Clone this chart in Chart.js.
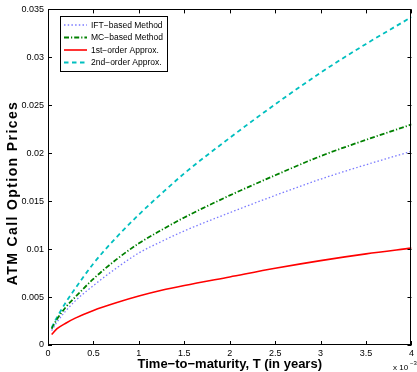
<!DOCTYPE html>
<html>
<head>
<meta charset="utf-8">
<script src="https://cdn.jsdelivr.net/npm/chart.js@4.4.1/dist/chart.umd.min.js"></script>
<style>
  html, body { margin: 0; padding: 0; background: #fff; }
  canvas { display: block; }
</style>
</head>
<body>
<canvas id="chart" width="417" height="372" style="width:417px;height:372px"></canvas>
<script>
// time to maturity, in units of 1e-3 years
const maturities = [0.04, 0.1, 0.2, 0.3, 0.5, 0.75, 1, 1.25, 1.5, 2, 2.5, 3, 3.5, 4];
const iftPrices    = [0.0015, 0.0024, 0.0036, 0.0046, 0.0062, 0.0080, 0.0096, 0.0108, 0.0119, 0.0138, 0.0156, 0.0173, 0.0188, 0.0202];
const mcPrices     = [0.0017, 0.0027, 0.0040, 0.0050, 0.0069, 0.0089, 0.0106, 0.0120, 0.0133, 0.0156, 0.0177, 0.0197, 0.0214, 0.0230];
const firstOrder   = [0.0011, 0.0017, 0.0023, 0.0028, 0.0036, 0.0044, 0.0051, 0.0057, 0.0062, 0.0071, 0.0080, 0.0088, 0.0095, 0.0101];
const secondOrder  = [0.0018, 0.0029, 0.0045, 0.0059, 0.0085, 0.0112, 0.0136, 0.0158, 0.0179, 0.0216, 0.0251, 0.0284, 0.0314, 0.0342];
const xTicks = [0, 0.5, 1, 1.5, 2, 2.5, 3, 3.5, 4];
const yTicks = [0, 0.005, 0.01, 0.015, 0.02, 0.025, 0.03, 0.035];

const seriesLabels = ['IFT\u2212based Method', 'MC\u2212based Method', '1st\u2212order Approx.', '2nd\u2212order Approx.'];

const pts = vals => maturities.map((t, i) => ({ x: t, y: vals[i] }));

const FONT = 'Arial, "Liberation Sans", Helvetica, sans-serif';

const datasets = [
  { label: seriesLabels[0], data: pts(iftPrices), borderColor: '#7a7aff', borderWidth: 1.3, borderDash: [1.5, 2.2] },
  { label: seriesLabels[1], data: pts(mcPrices), borderColor: '#008000', borderWidth: 1.8, borderDash: [5, 2, 1.2, 2] },
  { label: seriesLabels[2], data: pts(firstOrder), borderColor: '#ff0000', borderWidth: 1.6, borderDash: [] },
  { label: seriesLabels[3], data: pts(secondOrder), borderColor: '#00bfbf', borderWidth: 1.8, borderDash: [4.5, 3.5] }
];

// frame, inward ticks, legend and extra labels in matlab style
const matlabFrame = {
  id: 'matlabFrame',
  afterDraw(chart) {
    const ctx = chart.ctx;
    const a = chart.chartArea;
    const xs = chart.scales.x, ys = chart.scales.y;
    ctx.save();
    ctx.strokeStyle = '#000';
    ctx.lineWidth = 1;
    ctx.setLineDash([]);
    ctx.strokeRect(Math.round(a.left) + 0.5, Math.round(a.top) + 0.5,
      Math.round(a.right - a.left) - 1, Math.round(a.bottom - a.top) - 1);

    const tl = 4;
    ctx.beginPath();
    xTicks.forEach(v => {
      const px = Math.round(xs.getPixelForValue(v)) + 0.5;
      ctx.moveTo(px, a.bottom); ctx.lineTo(px, a.bottom - tl);
      ctx.moveTo(px, a.top); ctx.lineTo(px, a.top + tl);
    });
    yTicks.forEach(v => {
      const py = Math.round(ys.getPixelForValue(v)) + 0.5;
      ctx.moveTo(a.left, py); ctx.lineTo(a.left + tl, py);
      ctx.moveTo(a.right, py); ctx.lineTo(a.right - tl, py);
    });
    ctx.stroke();

    // legend
    const lx = 60, ly = 16, lw = 107, lh = 55;
    ctx.fillStyle = '#fff';
    ctx.fillRect(lx, ly, lw, lh);
    ctx.strokeRect(lx + 0.5, ly + 0.5, lw, lh);
    ctx.font = '8.5px ' + FONT;
    ctx.textBaseline = 'middle';
    ctx.textAlign = 'left';
    chart.data.datasets.forEach((ds, i) => {
      const y = ly + 9 + i * 12.5;
      ctx.save();
      ctx.strokeStyle = ds.borderColor;
      ctx.lineWidth = ds.borderWidth;
      ctx.setLineDash(ds.borderDash || []);
      ctx.beginPath();
      ctx.moveTo(lx + 4, y); ctx.lineTo(lx + 27, y);
      ctx.stroke();
      ctx.restore();
      ctx.fillStyle = '#000';
      ctx.fillText(ds.label, lx + 31, y + 0.5);
    });

    // exponent label
    ctx.fillStyle = '#000';
    ctx.font = '8px ' + FONT;
    ctx.textBaseline = 'alphabetic';
    ctx.fillText('x 10', 393, 370);
    ctx.font = '6px ' + FONT;
    ctx.fillText('\u22123', 410, 365);

    // y axis title
    ctx.translate(13, 193);
    ctx.rotate(-Math.PI / 2);
    ctx.font = 'bold 14px ' + FONT;
    ctx.textAlign = 'center';
    ctx.textBaseline = 'middle';
    if ('letterSpacing' in ctx) ctx.letterSpacing = '1.4px';
    ctx.fillText('ATM Call Option Prices', 0, 0);
    ctx.restore();
  }
};

new Chart(document.getElementById('chart'), {
  type: 'line',
  data: { datasets },
  options: {
    responsive: false,
    animation: false,
    devicePixelRatio: 1,
    layout: { padding: { top: 9, right: 2, left: 0, bottom: 0 } },
    elements: {
      point: { radius: 0 },
      line: { cubicInterpolationMode: 'monotone', fill: false }
    },
    plugins: {
      legend: { display: false },
      tooltip: { enabled: false }
    },
    scales: {
      x: {
        type: 'linear',
        min: 0,
        max: 4,
        afterBuildTicks: s => { s.ticks = xTicks.map(v => ({ value: v })); },
        afterFit: s => { s.height = 27; },
        grid: { display: false, drawTicks: false },
        border: { display: false },
        ticks: {
          color: '#000',
          padding: 3,
          maxRotation: 0,
          font: { size: 9, family: FONT },
          callback: v => String(v)
        },
        title: {
          display: true,
          text: 'Time\u2212to\u2212maturity, T (in years)',
          color: '#000',
          font: { size: 13, weight: 'bold', family: FONT },
          padding: { top: 0, bottom: 0 }
        }
      },
      y: {
        type: 'linear',
        min: 0,
        max: 0.035,
        afterBuildTicks: s => { s.ticks = yTicks.map(v => ({ value: v })); },
        afterFit: s => { s.width = 48; },
        grid: { display: false, drawTicks: false },
        border: { display: false },
        ticks: {
          color: '#000',
          padding: 4,
          font: { size: 9, family: FONT },
          callback: v => String(Number(v.toFixed(3)))
        }
      }
    }
  },
  plugins: [matlabFrame]
});
</script>
</body>
</html>
